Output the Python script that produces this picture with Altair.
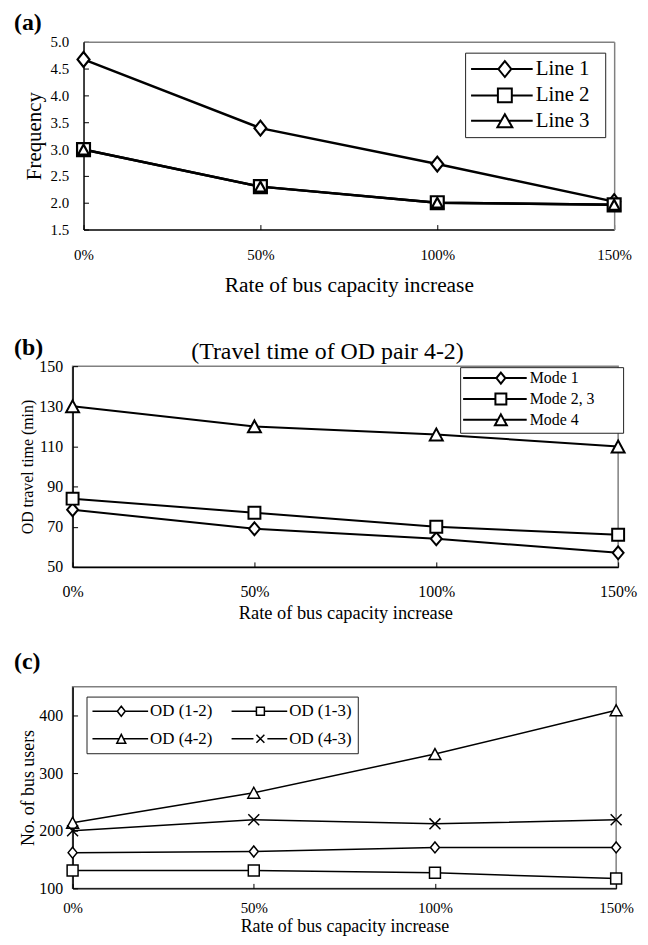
import altair as alt
import pandas as pd

FONT = "Liberation Serif"

# ---------------- data ----------------
rates = [0, 50, 100, 150]
rate_ticks = [0, 50, 100, 150]

a_series = ["Line 1", "Line 2", "Line 3"]
a_line1 = [4.67, 3.39, 2.72, 2.02]
a_line2 = [2.99, 2.30, 2.00, 1.96]
a_line3 = [2.99, 2.30, 2.00, 1.96]
a_yticks = [1.5, 2.0, 2.5, 3.0, 3.5, 4.0, 4.5, 5.0]

b_series = ["Mode 1", "Mode 2, 3", "Mode 4"]
b_mode1 = [78.5, 69, 64, 57]
b_mode23 = [84, 77, 70, 66]
b_mode4 = [130, 120, 116, 110]
b_yticks = [50, 70, 90, 110, 130, 150]

c_series = ["OD  (1-2)", "OD (1-3)", "OD (4-2)", "OD (4-3)"]
c_od12 = [162, 164, 171, 171]
c_od13 = [131, 131, 127, 117]
c_od42 = [214, 266, 333, 409]
c_od43 = [200, 219, 212, 219]
c_yticks = [100, 200, 300, 400]
# legend fills columns first: this order gives rows (1-2, 1-3) / (4-2, 4-3)
c_legend_order = ["OD  (1-2)", "OD (4-2)", "OD (1-3)", "OD (4-3)"]

x_title = "Rate of bus capacity increase"


def long_df(series, cols):
    rows = []
    for s, vals in zip(series, cols):
        for r, v in zip(rates, vals):
            rows.append({"series": s, "rate": r, "value": v})
    return pd.DataFrame(rows)


df_a = long_df(a_series, [a_line1, a_line2, a_line3])
df_b = long_df(b_series, [b_mode1, b_mode23, b_mode4])
df_c = long_df(c_series, [c_od12, c_od13, c_od42, c_od43])


# ---------------- symbol paths (style only) ----------------
def fmt(v):
    return f"{v:.4f}"


def marker_seg(kind, w, h, cx, k):
    hw, hh = w / 2.0, h / 2.0

    def P(x, y):
        return f"{fmt(x / k)},{fmt(y / k)}"

    if kind == "diamond":
        return f"M{P(cx, -hh)}L{P(cx + hw, 0)}L{P(cx, hh)}L{P(cx - hw, 0)}Z"
    if kind == "square":
        return f"M{P(cx - hw, -hh)}L{P(cx + hw, -hh)}L{P(cx + hw, hh)}L{P(cx - hw, hh)}Z"
    if kind == "triangle":
        return f"M{P(cx, -hh)}L{P(cx + hw, hh)}L{P(cx - hw, hh)}Z"
    return f"M{P(cx - hw, -hh)}L{P(cx + hw, hh)}M{P(cx - hw, hh)}L{P(cx + hw, -hh)}"


def plot_path(kind, w, h, k=10.0):
    return marker_seg(kind, w, h, 0.0, k)


def legend_path(kind, w, h, s, x0, x1, cx, xe=None):
    gap = {"diamond": w / 2, "square": w / 2, "triangle": w / 4, "cross": w / 2 + 3}[kind]

    def P(x, y):
        return f"{fmt(x / s)},{fmt(y / s)}"

    line = f"M{P(x0, 0)}L{P(cx - gap, 0)}M{P(cx + gap, 0)}L{P(x1, 0)}"
    path = line + marker_seg(kind, w, h, cx, s)
    if xe is not None:
        # zero-length sub-path: draws nothing, only widens the legend box
        path += f"M{P(xe, 0)}L{P(xe, 0)}"
    return path


def panel(df, series, kinds, plot_dims, leg_dims, p, legend_order=None):
    xs = dict(domain=[0, 150], nice=False, zero=False)
    if p.get("xrange"):
        xs["range"] = p["xrange"]
    xscale = alt.Scale(**xs)
    yscale = alt.Scale(domain=p["ydomain"], nice=False, zero=False)
    xaxis = alt.Axis(
        orient="bottom", values=rate_ticks, labelExpr="datum.value + '%'",
        title=x_title, labelFont=FONT, labelFontSize=p["xlfs"], labelColor="black",
        labelPadding=p["xlpad"], labelFlush=False, labelOverlap=False,
        ticks=False, tickSize=0, domainColor="black", domainWidth=p["dw"],
        grid=True, gridColor="black", gridWidth=1, gridOpacity=1,
        gridDash=[0, p["h"] - 5, 5, 3000],
        titleFont=FONT, titleFontSize=p["xtfs"], titleFontWeight="normal",
        titleColor="black", titlePadding=p["xtpad"],
    )
    yaxis = alt.Axis(
        orient="left", values=p["yticks"], format=p["yfmt"], title=p["ytitle"],
        offset=p.get("yoff", 0),
        labelFont=FONT, labelFontSize=p["ylfs"], labelColor="black",
        labelPadding=p["ylpad"], labelFlush=False, labelOverlap=False,
        ticks=False, tickSize=0, domainColor="black", domainWidth=p["dw"],
        grid=True, gridColor="black", gridWidth=1, gridOpacity=1, gridDash=[5, 3000],
        titleFont=FONT, titleFontSize=p["ytfs"], titleFontWeight="normal",
        titleColor="black", titlePadding=p["ytpad"],
    )
    x_none = alt.X("rate:Q", scale=xscale, axis=None)
    y_none = alt.Y("value:Q", scale=yscale, axis=None)

    lines = alt.Chart(df).mark_line(color="black", strokeWidth=p["lw"]).encode(
        x=alt.X("rate:Q", scale=xscale, axis=xaxis),
        y=alt.Y("value:Q", scale=yscale, axis=yaxis),
        detail="series:N",
    )

    plot_paths = [plot_path(k_, w, h) for k_, (w, h) in zip(kinds, plot_dims)]
    pts = alt.Chart(df).mark_point(
        filled=True, fill="white", stroke="black", strokeWidth=p["mw"], size=400, opacity=1
    ).encode(
        x=x_none, y=y_none,
        shape=alt.Shape("series:N", scale=alt.Scale(domain=series, range=plot_paths), legend=None),
    )

    L = p["leg"]
    fs, sw, root = L["fs"], L["sw"], L["root"]
    s = root / 2.0
    entry = max(int(-(-(root + sw) // 1)), fs)
    c0 = entry / 2.0
    x0 = -c0
    x1 = -c0 + L["len"]
    cx = -c0 + L["mpos"]
    xe = (-c0 + L["ext"]) if L.get("ext") else None
    order = legend_order or series
    kind_of = dict(zip(series, kinds))
    dims_of = dict(zip(series, leg_dims))
    leg_paths = [legend_path(kind_of[n], dims_of[n][0], dims_of[n][1], s, x0, x1, cx, xe)
                 for n in order]
    label_off = L["lab"] - entry
    size = root * root
    leg = alt.Chart(df).transform_filter("datum.rate < 0").mark_point(
        filled=False, color="black", strokeWidth=sw, size=size, opacity=1
    ).encode(
        x=x_none, y=y_none,
        shape=alt.Shape(
            "series:N",
            scale=alt.Scale(domain=order, range=leg_paths),
            legend=alt.Legend(
                title=None, orient="none", legendX=L["x"], legendY=L["y"],
                columns=L["cols"], columnPadding=L["cp"], symbolSize=size,
                rowPadding=L["rp"], labelOffset=label_off,
                labelFont=FONT, labelFontSize=fs, labelColor="black",
                padding=L["pad"], strokeColor="#222222", fillColor="white",
                symbolStrokeWidth=sw, symbolStrokeColor="black",
                symbolOpacity=1, labelLimit=300,
            ),
        ),
    )

    layers = [lines, pts, leg]
    if p.get("heading"):
        head = alt.Chart(df).transform_filter("datum.rate < 0").mark_point(opacity=0).encode(
            x=alt.X("rate:Q", scale=xscale, axis=alt.Axis(
                orient="top", labels=False, ticks=False, domain=False, grid=False,
                title=p["heading"], titleFont=FONT, titleFontSize=p["hfs"],
                titleFontWeight="normal", titleColor="black", titlePadding=p["hpad"],
                titleX=p["hx"],
            )),
            y=y_none,
        )
        layers.append(head)
    if p.get("frame_axes"):
        frame = alt.Chart(df).transform_filter("datum.rate < 0").mark_point(opacity=0).encode(
            x=alt.X("rate:Q", scale=xscale, axis=alt.Axis(
                orient="top", labels=False, ticks=False, grid=False, title=None,
                domainColor="#808080", domainWidth=1.5,
            )),
            y=alt.Y("value:Q", scale=yscale, axis=alt.Axis(
                orient="right", labels=False, ticks=False, grid=False, title=None,
                domainColor="#808080", domainWidth=1.5,
            )),
        )
        layers.append(frame)

    props = dict(
        width=p["w"], height=p["h"],
        title=alt.TitleParams(
            text=p["label"], anchor="start", frame="group", dx=p["tdx"],
            offset=p["toff"], font=FONT, fontSize=24, fontWeight="bold", color="black",
        ),
    )
    if p.get("frame_axes"):
        props["view"] = alt.ViewBackground(strokeOpacity=0)
    return alt.layer(*layers).resolve_scale(shape="independent").resolve_axis(
        x="independent", y="independent"
    ).properties(**props)


pa = panel(
    df_a, a_series, ["diamond", "square", "triangle"],
    [(12, 15), (13, 13), (11, 10)],
    [(13, 16), (14, 14), (15, 13)],
    dict(w=545, h=189, xrange=[11, 545], yoff=-11, frame_axes=True,
         ydomain=[1.5, 5.0], yticks=a_yticks, yfmt=".1f", ytitle="Frequency",
         xlfs=15, xlpad=18, xtfs=21.5, xtpad=12, ylfs=15, ylpad=15, ytfs=21, ytpad=6,
         dw=1.5, lw=2.5, mw=2.2, label="(a)", tdx=-59, toff=0,
         leg=dict(x=395, y=11, pad=6, rp=2.5, fs=21, sw=2, root=16,
                  len=62, mpos=34, lab=65, ext=125, cols=1, cp=10)),
)

pb = panel(
    df_b, b_series, ["diamond", "square", "triangle"],
    [(11, 13), (12, 12), (13, 12)],
    [(9, 11), (11, 11), (12, 11)],
    dict(w=549, h=202, ydomain=[50, 150], yticks=b_yticks, yfmt="d", ytitle="OD travel time (min)",
         xlfs=16, xlpad=17, xtfs=18.5, xtpad=4, ylfs=16, ylpad=10, ytfs=16, ytpad=3,
         dw=1.5, lw=2, mw=2, label="(b)", tdx=-59, toff=-21,
         heading="(Travel time of OD pair 4-2)", hfs=24, hpad=3, hx=256,
         leg=dict(x=390, y=1, pad=3, rp=1, fs=16, sw=2, root=12,
                  len=64, mpos=38, lab=67, ext=154, cols=1, cp=10)),
)

pc = panel(
    df_c, c_series, ["diamond", "square", "triangle", "cross"],
    [(9, 11), (11, 11), (12, 11), (11, 11)],
    [(8, 10), (8, 8), (9, 9), (8, 8)],
    dict(w=547, h=203, ydomain=[100, 450], yticks=c_yticks, yfmt="d", ytitle="No. of bus users",
         xlfs=15, xlpad=12, xtfs=18, xtpad=2, ylfs=16, ylpad=10, ytfs=18, ytpad=1,
         dw=1.5, lw=1.5, mw=1.5, label="(c)", tdx=-59, toff=13,
         leg=dict(x=14, y=10, pad=6, rp=10, fs=17, sw=1.5, root=12,
                  len=56, mpos=29, lab=58, ext=None, cols=2, cp=10)),
    legend_order=c_legend_order,
)

top = alt.vconcat(pa, pb, spacing=39.5)
chart = alt.vconcat(top, pc, spacing=26).configure_view(
    stroke="#808080", strokeWidth=1.5
).properties(padding={"left": 5, "top": 0, "right": 2, "bottom": 0})

chart.save("out.html", embed_options={"renderer": "svg", "actions": False})
